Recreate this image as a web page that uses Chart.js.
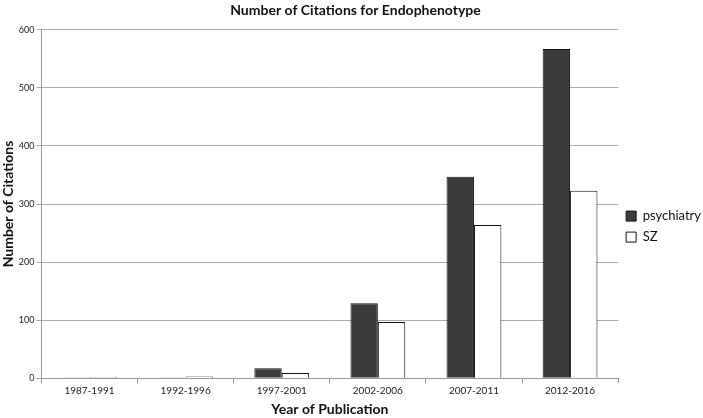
<!DOCTYPE html>
<html>
<head>
<meta charset="utf-8">
<script src="https://cdn.jsdelivr.net/npm/chart.js@4"></script>
<style>
  html, body { margin: 0; padding: 0; background: #fff; }
  #wrap { width: 703px; height: 418px; position: relative; }
</style>
</head>
<body>
<div id="wrap"><canvas id="citationChart"></canvas></div>
<script>
var periods = ['1987-1991', '1992-1996', '1997-2001', '2002-2006', '2007-2011', '2012-2016'];
var psychiatry = [1, 1, 17, 129, 347, 567];
var sz = [2, 3, 9, 97, 264, 323];

var font = "Lato, 'Open Sans', sans-serif";

var ctx = document.getElementById('citationChart').getContext('2d');
var chart = new Chart(ctx, {
    type: 'bar',
    data: {
        labels: periods,
        datasets: [{
            label: 'psychiatry',
            data: psychiatry,
            backgroundColor: '#3c3c3c',
            borderColor: '#111',
            borderWidth: 1
        }, {
            label: 'SZ',
            data: sz,
            backgroundColor: '#ffffff',
            borderColor: '#111',
            borderWidth: 1
        }]
    },
    options: {
        responsive: true,
        maintainAspectRatio: false,
        animation: false,
        layout: {
            padding: { top: 0, right: -8, bottom: 0, left: 0 }
        },
        datasets: {
            bar: {
                categoryPercentage: 0.57,
                barPercentage: 1.0
            }
        },
        scales: {
            x: {
                grid: {
                    offset: true,
                    drawOnChartArea: false,
                    drawTicks: true,
                    tickLength: 5,
                    color: '#999'
                },
                border: { color: '#999' },
                ticks: {
                    color: '#222',
                    font: { family: font, size: 10 },
                    padding: 2
                },
                title: {
                    display: true,
                    text: 'Year of Publication',
                    color: '#111',
                    font: { family: font, size: 14, weight: 'bold' },
                    padding: { top: 2, bottom: 0 }
                }
            },
            y: {
                min: 0,
                max: 600,
                ticks: {
                    stepSize: 100,
                    color: '#222',
                    font: { family: font, size: 9 },
                    padding: 2
                },
                grid: {
                    color: '#aaa',
                    tickLength: 5
                },
                border: { color: '#999' },
                title: {
                    display: true,
                    text: 'Number of Citations',
                    color: '#111',
                    font: { family: font, size: 14, weight: 'bold' },
                    padding: { top: 0, bottom: 0 }
                }
            }
        },
        plugins: {
            title: {
                display: true,
                text: 'Number of Citations for Endophenotype',
                color: '#111',
                font: { family: font, size: 14, weight: 'bold' },
                padding: { top: 2, bottom: 11 }
            },
            legend: {
                position: 'right',
                title: {
                    display: true,
                    text: ' ',
                    font: { size: 1 },
                    padding: { top: 34, bottom: 0 }
                },
                labels: {
                    boxWidth: 10,
                    boxHeight: 10,
                    padding: 8,
                    color: '#111',
                    font: { family: font, size: 13 }
                }
            },
            tooltip: { enabled: false }
        }
    }
});
</script>
</body>
</html>
